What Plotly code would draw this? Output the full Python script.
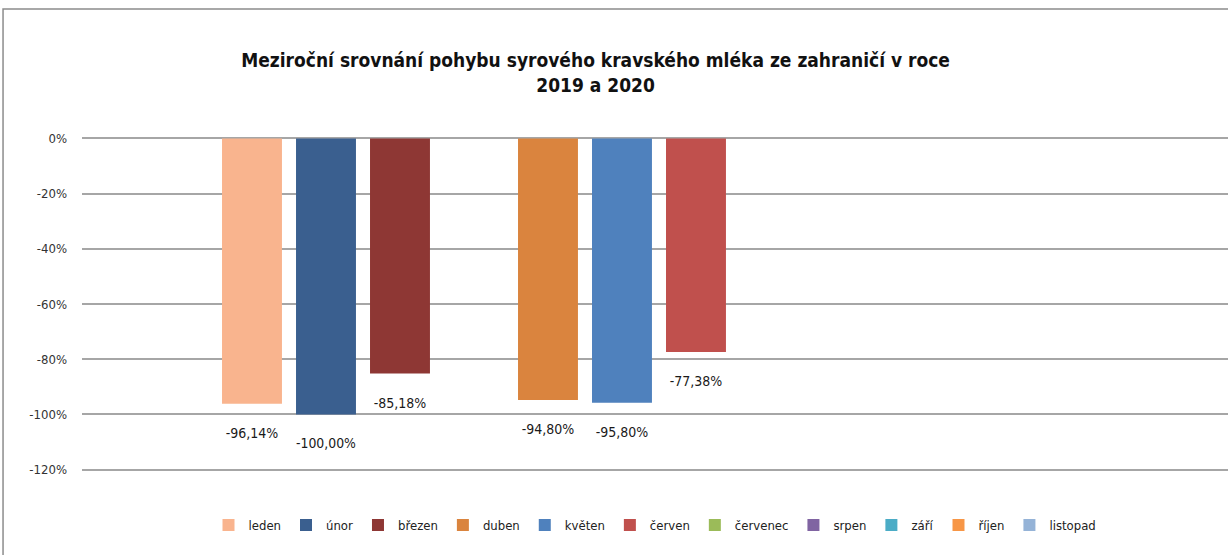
import plotly.graph_objects as go

# ---- data ----
months = ["leden", "únor", "březen", "duben", "květen", "červen",
          "červenec", "srpen", "září", "říjen", "listopad"]
values_pct = [-96.14, -100.00, -85.18, -94.80, -95.80, -77.38,
              None, None, None, None, None]
colors = ["#F9B48E", "#3A5F8F", "#8E3734", "#DA843E", "#4F81BD", "#C0504D",
          "#9BBB59", "#8064A2", "#4BACC6", "#F79646", "#95B3D7"]
category = [""]
tick_values = [0, -0.2, -0.4, -0.6, -0.8, -1.0, -1.2]
tick_labels = ["0%", "-20%", "-40%", "-60%", "-80%", "-100%", "-120%"]
title_text = ("Meziroční srovnání pohybu syrového kravského mléka ze zahraničí v roce"
              "<br>2019 a 2020")

FONT = "Liberation Sans Narrow, DejaVu Sans Condensed, Arial Narrow, Liberation Sans, sans-serif"

fig = go.Figure()
for i, (m, v, c) in enumerate(zip(months, values_pct, colors)):
    fig.add_trace(go.Bar(
        name=m, x=category, y=[None if v is None else v / 100.0],
        marker=dict(color=c, line=dict(width=0)),
        texttemplate="&nbsp;<br>%{y:.2%}", textposition="outside",
        textfont=dict(size=14, color="#1a1a1a", family=FONT),
        cliponaxis=False, hoverinfo="skip",
    ))
    if m == "březen":
        # empty slot that exists in the original chart
        fig.add_trace(go.Bar(name="", x=category, y=[None], showlegend=False,
                             marker=dict(color="rgba(0,0,0,0)"), hoverinfo="skip"))

fig.update_layout(
    width=1228, height=555,
    paper_bgcolor="white", plot_bgcolor="white",
    separators=", ",
    barmode="group", bargap=0.2305, bargroupgap=0.19,
    margin=dict(l=82, r=0, t=137, b=84),
    font=dict(family=FONT, color="#222222", size=12),
    title=dict(text=title_text, x=0.485, xanchor="center", xref="container",
               y=0.879, yanchor="top", yref="container",
               font=dict(size=19, color="#111111", family=FONT, weight="bold")),
    xaxis=dict(range=[-0.5, 0.4931], showticklabels=False, showgrid=False,
               zeroline=False, showline=False, ticks=""),
    yaxis=dict(range=[-1.205, 0.005], tickvals=tick_values, ticktext=tick_labels,
               showgrid=True, gridcolor="#A6A6A6", gridwidth=1.5,
               zeroline=True, zerolinecolor="#A6A6A6", zerolinewidth=1.5,
               showline=False, ticks="", ticklabelstandoff=14,
               tickfont=dict(size=13, color="#333333", family=FONT)),
    legend=dict(orientation="h", x=0.5, xanchor="center", y=-0.162, yanchor="middle",
                font=dict(size=13, color="#222222", family=FONT),
                itemwidth=30, tracegroupgap=0, traceorder="normal"),
    shapes=[dict(type="rect", xref="paper", yref="paper",
                 x0=-0.0689, x1=1.2, y0=-0.6, y1=1.383,
                 line=dict(color="#8C8C8C", width=1.5), fillcolor="rgba(0,0,0,0)",
                 layer="below")],
)

fig.write_html("out.html", config={"displayModeBar": False},
               post_script="document.body.style.margin='0px';document.body.style.overflow='hidden';")
